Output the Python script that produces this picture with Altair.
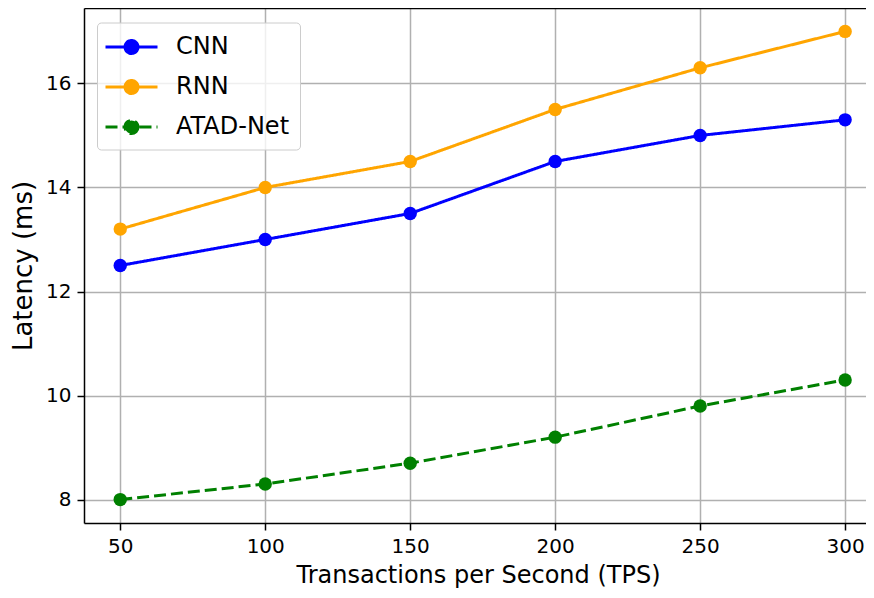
import altair as alt
import pandas as pd

tps = [50, 100, 150, 200, 250, 300]
cnn = [12.5, 13.0, 13.5, 14.5, 15.0, 15.3]
rnn = [13.2, 14.0, 14.5, 15.5, 16.3, 17.0]
atad = [8.0, 8.3, 8.7, 9.2, 9.8, 10.3]
models = ["CNN", "RNN", "ATAD-Net"]
colors = ["#0000ff", "#ffa500", "#008000"]
dashes = [[1, 0], [1, 0], [12, 5]]
x_ticks = [50, 100, 150, 200, 250, 300]
y_ticks = [8, 10, 12, 14, 16]

rows = []
for name, vals in zip(models, [cnn, rnn, atad]):
    for t, v in zip(tps, vals):
        rows.append({"TPS": t, "Latency": v, "Model": name})
df = pd.DataFrame(rows)

FONT = "DejaVu Sans"
sym_path = "M-2,0L2,0M0.5,0A0.5,0.5,0,1,1,-0.5,0A0.5,0.5,0,1,1,0.5,0"


def make_legend():
    return alt.Legend(
        title=None,
        orient="none",
        legendX=13,
        legendY=14.5,
        symbolType=sym_path,
        symbolSize=676,
        symbolStrokeWidth=3,
        symbolOpacity=1,
        symbolOffset=10,
        labelFont=FONT,
        labelFontSize=24,
        labelColor="black",
        labelOffset=30,
        rowPadding=13,
        padding=10,
        strokeColor="#cccccc",
        fillColor="rgba(255,255,255,0.8)",
        cornerRadius=4,
    )


x_scale = alt.Scale(domain=[37.5, 307.2], nice=False, zero=False)
y_enc = alt.Y(
    "Latency:Q",
    scale=alt.Scale(domain=[7.55, 17.45], nice=False, zero=False),
    axis=alt.Axis(values=y_ticks, title="Latency (ms)", titleFontSize=26, titlePadding=9),
)

base = alt.Chart(df)

lines = base.mark_line(strokeWidth=3).encode(
    x=alt.X(
        "TPS:Q",
        scale=x_scale,
        axis=alt.Axis(
            values=x_ticks,
            title="Transactions per Second (TPS)",
            titleFontSize=24,
            titlePadding=7,
            titleX=394,
        ),
    ),
    y=y_enc,
    color=alt.Color("Model:N", sort=models, scale=alt.Scale(domain=models, range=colors), legend=make_legend()),
    strokeDash=alt.StrokeDash("Model:N", sort=models, scale=alt.Scale(domain=models, range=dashes), legend=make_legend()),
)

points = base.mark_point(filled=True, size=180, opacity=1).encode(
    x=alt.X(
        "TPS:Q",
        scale=x_scale,
        axis=alt.Axis(orient="top", labels=False, ticks=False, grid=False, domain=True, title=None),
    ),
    y=y_enc,
    fill=alt.Fill("Model:N", sort=models, scale=alt.Scale(domain=models, range=colors), legend=make_legend()),
)

chart = (
    alt.layer(lines, points)
    .resolve_axis(x="independent")
    .properties(
        width=782,
        height=515,
        autosize=alt.AutoSizeParams(type="none"),
        padding={"left": 76, "top": 0, "right": 0, "bottom": 67},
    )
    .configure_view(stroke=None)
    .configure_axis(
        domain=True,
        domainColor="black",
        domainWidth=1.5,
        grid=True,
        gridColor="#b0b0b0",
        gridWidth=1.5,
        tickColor="black",
        tickWidth=1.5,
        tickSize=7,
        labelFont=FONT,
        labelFontSize=20,
        labelColor="black",
        labelPadding=6,
        titleFont=FONT,
        titleFontWeight="normal",
        titleColor="black",
    )
)

chart.save("out.html", embed_options={"renderer": "svg", "actions": False})
